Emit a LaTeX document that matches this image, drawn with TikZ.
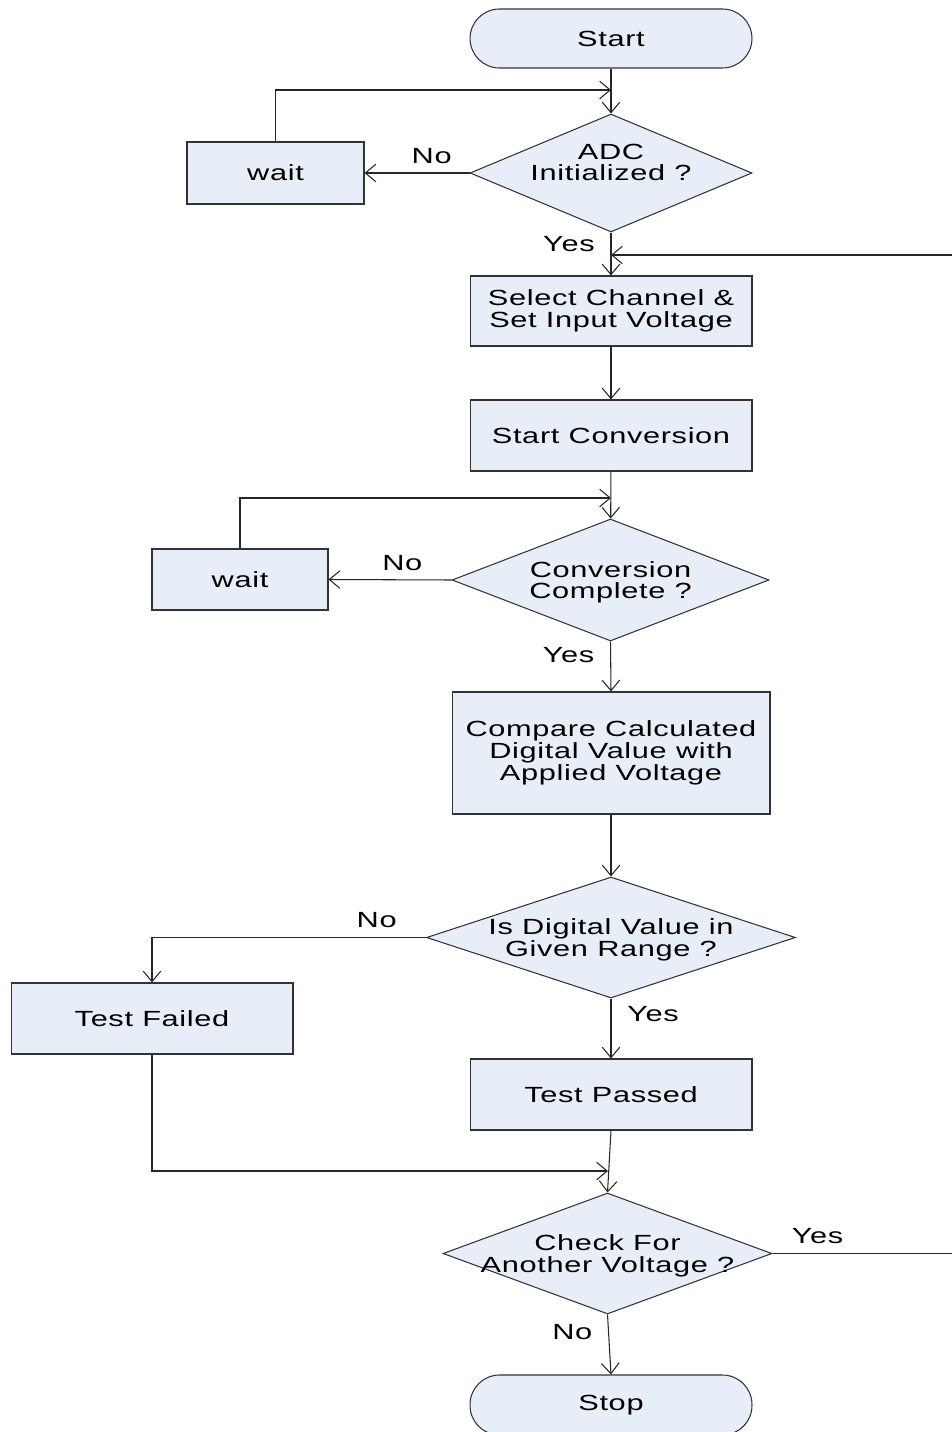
\documentclass[tikz,border=0pt]{standalone}
\usepackage{fontspec}
\setmainfont{Liberation Sans}[FakeStretch=1.4,LetterSpace=3]
\usetikzlibrary{shapes.geometric,arrows.meta}
\definecolor{boxfill}{HTML}{E8EEF7}
\newcommand{\diamondtext}[3][-4.7pt]{\raisebox{#1}[0pt][0pt]{\makebox[0pt]{\begin{tabular}{@{}c@{}}#2\\#3\end{tabular}}}}
\tikzset{
  flow/.style={draw=black!85, line width=0.6pt, -{Straight Barb[length=6pt,width=10pt]}},
  process/.style={draw=black!80, fill=boxfill, rectangle, inner sep=0pt, align=center, line width=0.6pt},
  decision/.style={draw=black!80, fill=boxfill, diamond, inner sep=0pt, line width=0.6pt},
  terminal/.style={draw=black!80, fill=boxfill, rectangle, rounded corners=0.59cm, inner sep=0pt, minimum width=5.64cm, minimum height=1.18cm, line width=0.6pt},
  every node/.style={font=\fontsize{12.5}{12.5}\selectfont}
}
\renewcommand{\arraystretch}{0.87}
\begin{document}
\begin{tikzpicture}[x = 0.02cm, y = -0.02cm]
    \useasboundingbox (0,0) rectangle (952,1432);
    \clip (0,0) rectangle (952,1432);
    \node[terminal] (start) at (611,38.5) {Start};
    \node[decision, minimum width=5.64cm, minimum height=2.36cm] (adc) at (611,173) {\diamondtext[1.5pt]{ADC}{Initialized ?}};
    \node[process, minimum width=3.54cm, minimum height=1.24cm] (wait1) at (275.5,173) {wait};
    \node[process, minimum width=5.64cm, minimum height=1.40cm] (select) at (611,311) {Select Channel \&\\Set Input Voltage};
    \node[process, minimum width=5.64cm, minimum height=1.42cm] (startconv) at (611,435.5) {Start Conversion};
    \node[decision, minimum width=6.34cm, minimum height=2.44cm] (complete) at (610.5,580) {\diamondtext{Conversion}{Complete ?}};
    \node[process, minimum width=3.52cm, minimum height=1.22cm] (wait2) at (240,579.5) {wait};
    \node[process, minimum width=6.36cm, minimum height=2.44cm] (compare) at (611,753) {Compare Calculated\\Digital Value with\\Applied Voltage};
    \node[decision, minimum width=7.38cm, minimum height=2.42cm] (range) at (611,937.5) {\diamondtext{Is Digital Value in}{Given Range ?}};
    \node[process, minimum width=5.64cm, minimum height=1.42cm] (failed) at (152,1018.5) {Test Failed};
    \node[process, minimum width=5.64cm, minimum height=1.42cm] (passed) at (611,1094.5) {Test Passed};
    \node[decision, minimum width=6.58cm, minimum height=2.42cm] (another) at (607.5,1253.5) {\diamondtext{Check For}{Another Voltage ?}};
    \node[terminal, minimum height=1.20cm] (stop) at (611,1405) {Stop};
    \coordinate (back1) at (611,90);
    \coordinate (back2) at (611,498);
    \coordinate (join) at (608,1171);
    \coordinate (again) at (611,255);
    \coordinate (edge) at (960,255);

    \draw[flow] (start) -- (adc);
    \draw[flow] (adc.west) -- node[above, pos=0.36, inner sep=5pt] (no1) {No} (wait1.east);
    \draw[flow] (wait1.north) |- (back1);
    \draw[flow] (adc.south) -- node[left, pos=0.27, inner sep=9pt] (yes1) {Yes} (select.north);
    \draw[flow] (another.east) -- node[above, pos=0.24, inner sep=5pt] (yes4) {Yes} (another.east -| edge) -- (edge) -- (again);
    \draw[flow] (select) -- (startconv);
    \draw[flow] (startconv) -- (complete);
    \draw[flow] (complete.west) -- node[above, pos=0.4, inner sep=5pt] (no2) {No} (wait2.east);
    \draw[flow] (wait2.north) |- (back2);
    \draw[flow] (complete.south) -- node[left, pos=0.27, inner sep=9pt] (yes2) {Yes} (compare.north);
    \draw[flow] (compare) -- (range);
    \draw[flow] (range.west) -| node[above, pos=0.09, inner sep=5pt] (no3) {No} (failed.north);
    \draw[flow] (range.south) -- node[right, pos=0.26, inner sep=9pt] (yes3) {Yes} (passed.north);
    \draw[flow] (failed.south) |- (join);
    \draw[flow] (passed.south) -- (another.north);
    \draw[flow] (another.south) -- node[left, pos=0.3, inner sep=9pt] (no4) {No} (stop.north);
\end{tikzpicture}
\end{document}
